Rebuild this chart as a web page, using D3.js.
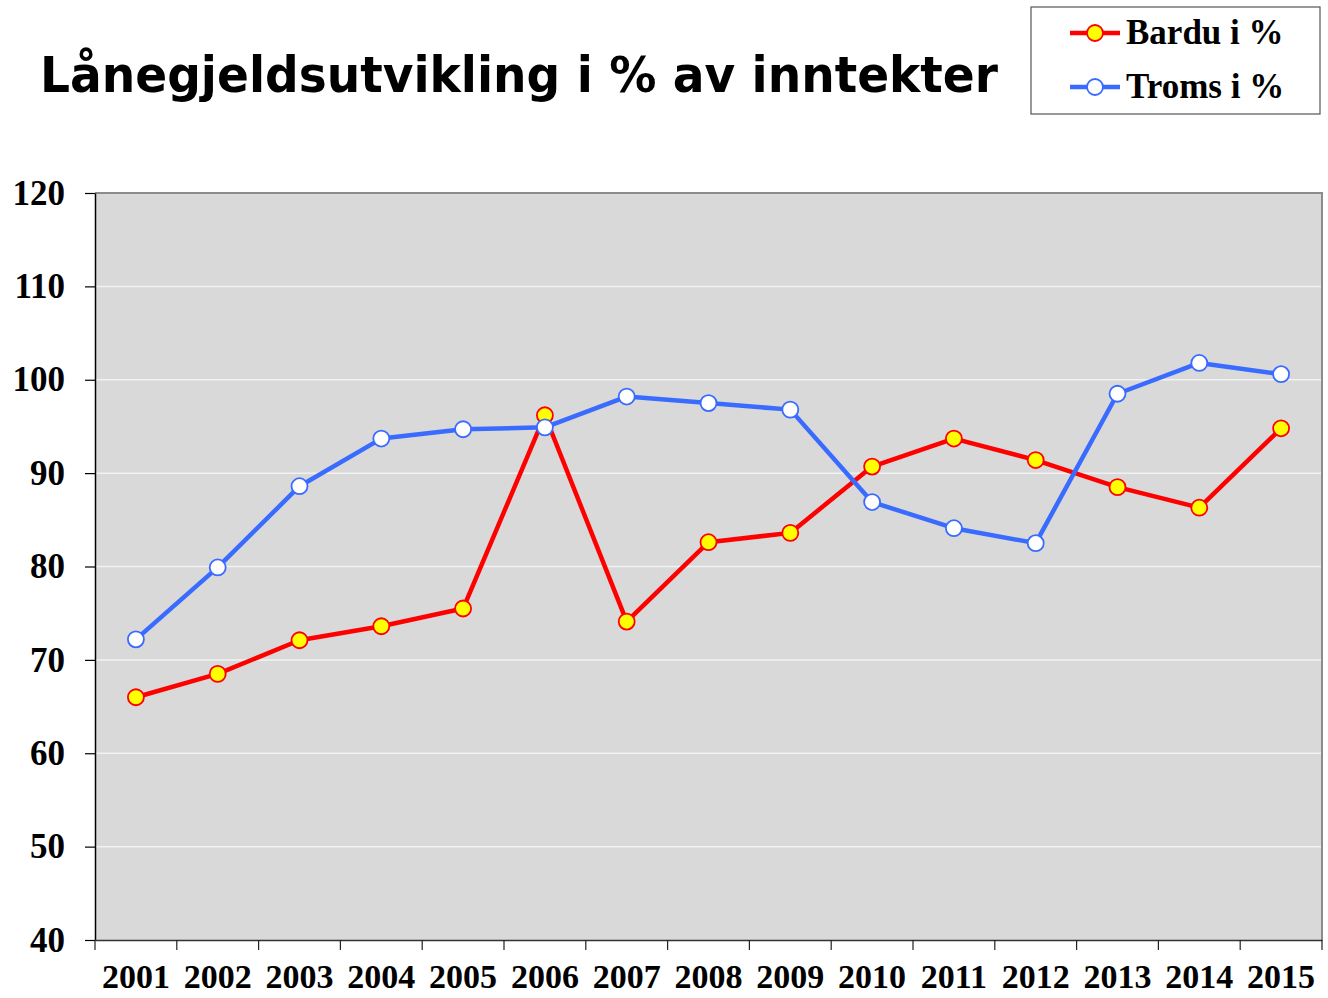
<html>
<head>
<meta charset="utf-8">
<script src="https://d3js.org/d3.v7.min.js"></script>
<style>
  body { margin: 0; background: #fff; }
</style>
</head>
<body>
<div id="chart"></div>
<script>
// data
const years = ["2001","2002","2003","2004","2005","2006","2007","2008","2009","2010","2011","2012","2013","2014","2015"];
const bardu = [66.0, 68.5, 72.1, 73.6, 75.5, 96.2, 74.1, 82.6, 83.6, 90.7, 93.7, 91.4, 88.5, 86.3, 94.8];
const troms = [72.2, 79.9, 88.6, 93.7, 94.7, 94.9, 98.2, 97.5, 96.8, 86.9, 84.1, 82.5, 98.5, 101.8, 100.6];
const yTicks = [40, 50, 60, 70, 80, 90, 100, 110, 120];
const seriesNames = ["Bardu i %", "Troms i %"];

const width = 1328, height = 998;
const plotLeft = 95, plotRight = 1322, plotTop = 193, plotBottom = 940;
const serif = "'Times New Roman', 'Liberation Serif', serif";

const svg = d3.select("#chart").append("svg")
  .attr("width", width)
  .attr("height", height);

let x = d3.scaleBand().domain(years).range([plotLeft, plotRight]);
let y = d3.scaleLinear().domain([40, 120]).range([plotBottom, plotTop]);

// plot background
svg.append("rect")
  .attr("x", plotLeft).attr("y", plotTop)
  .attr("width", plotRight - plotLeft).attr("height", plotBottom - plotTop)
  .style("fill", "#d9d9d9");

// gridlines
yTicks.slice(1, -1).forEach(t => {
  svg.append("line")
    .attr("x1", plotLeft).attr("x2", plotRight)
    .attr("y1", y(t)).attr("y2", y(t))
    .style("stroke", "#f2f2f2")
    .style("stroke-width", 1.5);
});

// grey frame top/right
svg.append("path")
  .attr("d", `M${plotLeft},${plotTop}H${plotRight}V${plotBottom}`)
  .style("fill", "none")
  .style("stroke", "#8c8c8c")
  .style("stroke-width", 2);

// y axis
const yAxis = svg.append("g")
  .attr("transform", `translate(${plotLeft},0)`)
  .call(d3.axisLeft(y).tickValues(yTicks).tickSize(10).tickPadding(20).tickSizeOuter(0));
yAxis.select(".domain").style("stroke", "#000").style("stroke-width", 1.5);
yAxis.selectAll(".tick line").style("stroke", "#000").style("stroke-width", 1.2);
yAxis.selectAll("text")
  .style("font-family", serif)
  .style("font-weight", "bold")
  .style("font-size", "35px")
  .style("fill", "#000");

// x axis with ticks at category boundaries
const xAxis = svg.append("g")
  .attr("transform", `translate(0,${plotBottom})`)
  .call(d3.axisBottom(x).tickSize(0).tickPadding(24).tickSizeOuter(0));
xAxis.select(".domain").style("stroke", "#333").style("stroke-width", 1.5);
xAxis.selectAll("text")
  .style("font-family", serif)
  .style("font-weight", "bold")
  .style("font-size", "34px")
  .style("fill", "#000");
years.concat(["end"]).forEach((yr, i) => {
  const xp = plotLeft + i * x.step();
  svg.append("line")
    .attr("x1", xp).attr("x2", xp)
    .attr("y1", plotBottom).attr("y2", plotBottom + 10)
    .style("stroke", "#222")
    .style("stroke-width", 1.2);
});

const cx = d => x(d) + x.bandwidth() / 2;
const line = d3.line().x((d, i) => cx(years[i])).y(d => y(d));

function drawSeries(vals, stroke, fill) {
  svg.append("path")
    .datum(vals)
    .attr("d", line)
    .style("fill", "none")
    .style("stroke", stroke)
    .style("stroke-width", 4.5)
    .style("stroke-linejoin", "round");
  vals.forEach((v, i) => {
    svg.append("circle")
      .attr("cx", cx(years[i]))
      .attr("cy", y(v))
      .attr("r", 8)
      .style("fill", fill)
      .style("stroke", stroke)
      .style("stroke-width", 1.8);
  });
}
drawSeries(bardu, "#ff0000", "#ffff00");
drawSeries(troms, "#3a6bff", "#ffffff");

// title
svg.append("text")
  .attr("x", 40).attr("y", 92)
  .attr("textLength", 958)
  .attr("lengthAdjust", "spacingAndGlyphs")
  .style("font-family", "'Comic Sans MS', 'DejaVu Sans', sans-serif")
  .style("font-weight", "bold")
  .style("font-size", "50px")
  .text("Lånegjeldsutvikling i % av inntekter");

// legend
svg.append("rect")
  .attr("x", 1031).attr("y", 7)
  .attr("width", 289).attr("height", 107)
  .style("fill", "#fff")
  .style("stroke", "#555")
  .style("stroke-width", 1.2);
const legendColors = [["#ff0000", "#ffff00"], ["#3a6bff", "#ffffff"]];
seriesNames.forEach((name, i) => {
  const ly = 33 + i * 54;
  svg.append("line")
    .attr("x1", 1070).attr("x2", 1120)
    .attr("y1", ly).attr("y2", ly)
    .style("stroke", legendColors[i][0])
    .style("stroke-width", 4.5);
  svg.append("circle")
    .attr("cx", 1095).attr("cy", ly).attr("r", 8)
    .style("fill", legendColors[i][1])
    .style("stroke", legendColors[i][0])
    .style("stroke-width", 1.8);
  svg.append("text")
    .attr("x", 1126).attr("y", ly + 11)
    .style("font-family", serif)
    .style("font-weight", "bold")
    .style("font-size", "35px")
    .text(name);
});
</script>
</body>
</html>
